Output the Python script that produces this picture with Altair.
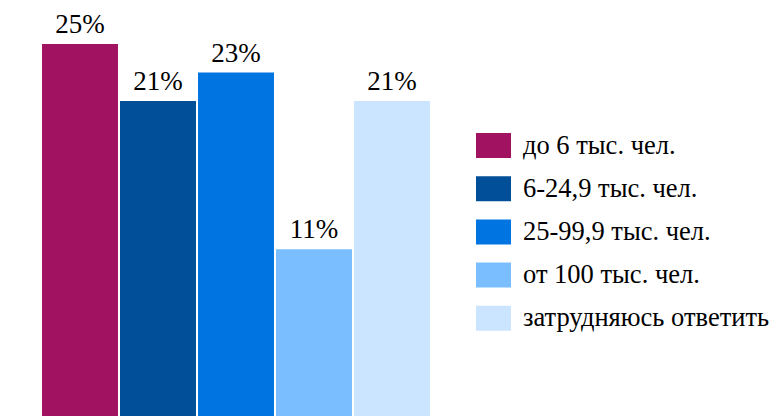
import altair as alt
import pandas as pd

categories = ["до 6 тыс. чел.", "6-24,9 тыс. чел.", "25-99,9 тыс. чел.", "от 100 тыс. чел.", "затрудняюсь ответить"]
values = [25.0, 21.0, 23.0, 10.6, 21.0]
labels = ["25%", "21%", "23%", "11%", "21%"]
colors = ["#A11361", "#004F98", "#0075E1", "#7ABEFF", "#CBE4FF"]

df = pd.DataFrame({"cat": categories, "val": values, "label": labels})

FONT = "Liberation Serif"

ymin = -1.1
yscale = alt.Scale(domain=[ymin, 27.53], nice=False, zero=False)
xenc = alt.X("cat:N", sort=categories,
             scale=alt.Scale(paddingInner=0.026, paddingOuter=0.436), axis=None)

rect_path = "M-1,-0.714L1,-0.714L1,0.714L-1,0.714Z"

bars = alt.Chart(df).mark_bar().encode(
    x=xenc,
    y=alt.Y("val:Q", scale=yscale, axis=None),
    y2=alt.datum(ymin),
    color=alt.Color("cat:N", sort=categories,
                    scale=alt.Scale(domain=categories, range=colors),
                    legend=alt.Legend(
                        title=None, orient="none", legendX=468, legendY=120,
                        symbolType=rect_path, symbolSize=1225,
                        symbolStrokeWidth=0, symbolOpacity=1,
                        labelFont=FONT, labelFontSize=26.5,
                        labelColor="#000000", labelOffset=12,
                        rowPadding=12.2, labelLimit=400)),
)

text = alt.Chart(df).mark_text(
    baseline="alphabetic", dy=-11, font=FONT, fontSize=27, color="#000000"
).encode(
    x=xenc,
    y=alt.Y("val:Q", scale=yscale, axis=None),
    text="label:N",
)

chart = (bars + text).properties(
    width=456, height=408, padding=0
).configure_view(stroke=None)

chart.save("out.html", embed_options={"renderer": "svg", "actions": False})
